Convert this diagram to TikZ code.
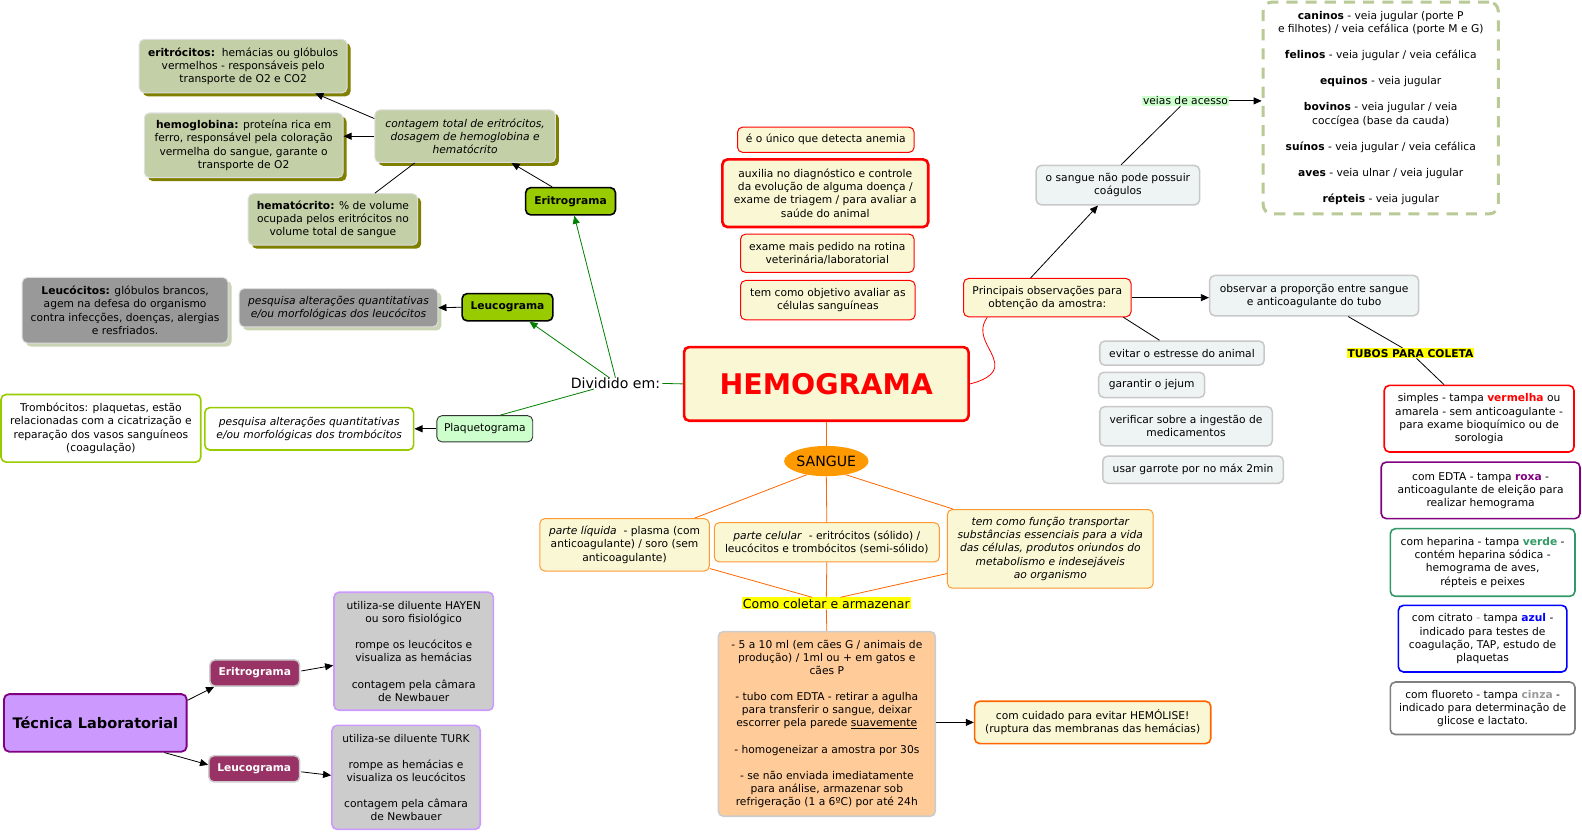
\documentclass[tikz,border=0pt]{standalone}
\usepackage{fontspec}
\setmainfont{DejaVu Sans}
\usetikzlibrary{arrows.meta,shapes.geometric,shadows,calc}
\definecolor{cream}{HTML}{FAF7D4}
\definecolor{olfill}{HTML}{C3CFA6}
\definecolor{olline}{HTML}{DEDEDE}
\definecolor{olshadow}{HTML}{808000}
\definecolor{lgshadow}{HTML}{C8D4B4}
\definecolor{gr99}{HTML}{999999}
\definecolor{ygreen}{HTML}{99CC00}
\definecolor{pgreen}{HTML}{CCFFCC}
\definecolor{dgreen}{HTML}{008000}
\definecolor{lorange}{HTML}{FF9933}
\definecolor{dorange}{HTML}{FF6600}
\definecolor{sorange}{HTML}{FF9900}
\definecolor{peach}{HTML}{FFCC99}
\definecolor{bluegray}{HTML}{EEF3F3}
\definecolor{bgline}{HTML}{C8C8C8}
\definecolor{maroon}{HTML}{993366}
\definecolor{lav}{HTML}{CC99FF}
\definecolor{purp}{HTML}{800080}
\definecolor{lgray}{HTML}{CCCCCC}
\definecolor{dashg}{HTML}{B9CA97}
\definecolor{tgreen}{HTML}{339966}
\definecolor{tgray}{HTML}{808080}
\definecolor{hlyellow}{HTML}{FFFF00}
\newcommand\mfs{\fontsize{10.6}{13}\selectfont}
\begin{document}
\begin{tikzpicture}[x=1pt,y=-1pt,
  every node/.style={font=\mfs, align=center, inner sep=1pt},
  bx/.style={rounded corners=5pt, line width=1pt},
  olv/.style={bx, fill=olfill, draw=olline, drop shadow={shadow xshift=3.5pt, shadow yshift=-3.5pt, fill=olshadow, opacity=1}},
  gry/.style={bx, fill=gr99, draw=olline, drop shadow={shadow xshift=3.5pt, shadow yshift=-3.5pt, fill=lgshadow, opacity=1}},
  grn/.style={bx, fill=ygreen, draw=black, line width=1.6pt, font=\mfs\bfseries},
  wgr/.style={bx, fill=white, draw=ygreen, line width=1.6pt},
  plq/.style={bx, fill=pgreen, draw=black!80, line width=0.9pt},
  yr/.style={bx, fill=cream, draw=red, line width=1pt},
  so/.style={bx, fill=cream, draw=lorange, line width=1pt},
  bg/.style={bx, fill=bluegray, draw=bgline, line width=1.5pt},
  tb/.style={bx, fill=white, line width=1.6pt},
  mr/.style={bx, fill=maroon, draw=lgray, line width=1.5pt, text=white, font=\mfs\bfseries},
  lv/.style={bx, fill=lgray, draw=lav, line width=1.6pt},
  arr/.style={-{Triangle[length=8pt,width=7pt]}, line width=0.8pt, black},
  garr/.style={-{Triangle[length=8pt,width=7pt]}, line width=0.8pt, dgreen},
  gln/.style={line width=0.8pt, dgreen},
  oln/.style={line width=0.8pt, dorange},
  bln/.style={line width=0.8pt, black}]
\useasboundingbox (0,0) rectangle (1568,825);

% ---------- left top cluster ----------
\node[olv, minimum width=206, minimum height=53] (eri) at (241,65.5)
  {\textbf{eritrócitos:}\ \ hemácias ou glóbulos\\vermelhos - responsáveis pelo\\transporte de O2 e CO2};
\node[olv, minimum width=197, minimum height=64] (hgb) at (241.5,144)
  {\textbf{hemoglobina:} proteína rica em\\ferro, responsável pela coloração\\vermelha do sangue, garante o\\transporte de O2};
\node[olv, minimum width=179, minimum height=52, font=\mfs\itshape] (cont) at (461,135)
  {contagem total de eritrócitos,\\dosagem de hemoglobina e\\hematócrito};
\node[olv, minimum width=168, minimum height=51] (hct) at (330,217.5)
  {\textbf{hematócrito:} \% de volume\\ocupada pelos eritrócitos no\\volume total de sangue};
\node[grn, minimum width=89, minimum height=27] (erg) at (565.5,199.5) {Eritrograma};

\node[gry, minimum width=204, minimum height=65] (leuc) at (124,307.5)
  {\textbf{Leucócitos:} glóbulos brancos,\\agem na defesa do organismo\\contra infecções, doenças, alergias\\e resfriados.};
\node[gry, minimum width=197, minimum height=38, font=\mfs\itshape] (pql) at (335.5,305)
  {pesquisa alterações quantitativas\\e/ou morfológicas dos leucócitos};
\node[grn, minimum width=90, minimum height=27] (leug) at (503,304.5) {Leucograma};

\node[wgr, minimum width=198, minimum height=67] (trom) at (100,424.5)
  {Trombócitos: plaquetas, estão\\relacionadas com a cicatrização e\\reparação dos vasos sanguíneos\\(coagulação)};
\node[wgr, minimum width=207, minimum height=42, font=\mfs\itshape] (pqt) at (306.5,425)
  {pesquisa alterações quantitativas\\e/ou morfológicas dos trombócitos};
\node[plq, minimum width=95, minimum height=26] (plaq) at (480.5,425) {Plaquetograma};

\node[font=\fontsize{14}{16}\selectfont, inner sep=2pt] (div) at (610,380) {Dividido em:};

% ---------- center ----------
\node[bx, fill=cream, draw=red, line width=2.6pt, minimum width=282, minimum height=73,
  text=red, font=\fontsize{28.2}{32}\selectfont\bfseries] (hemo) at (819,380.5) {HEMOGRAMA};

\node[yr, minimum width=175, minimum height=25] (anem) at (818.5,138.5) {é o único que detecta anemia};
\node[yr, line width=2.6pt, minimum width=204, minimum height=67] (aux) at (818,191.5)
  {auxilia no diagnóstico e controle\\da evolução de alguma doença /\\exame de triagem / para avaliar a\\saúde do animal};
\node[yr, minimum width=172, minimum height=38] (exam) at (820,251)
  {exame mais pedido na rotina\\veterinária/laboratorial};
\node[yr, minimum width=173, minimum height=39] (obj) at (820.5,297.5)
  {tem como objetivo avaliar as\\células sanguíneas};

\node[ellipse, fill=sorange, minimum width=70, minimum height=30, inner sep=0pt,
  font=\fontsize{14}{16}\selectfont] (sang) at (819,457) {SANGUE};

\node[so, minimum width=168, minimum height=52] (liq) at (619,540)
  {\textit{parte líquida}\ \ - plasma (com\\anticoagulante) / soro (sem\\anticoagulante)};
\node[so, minimum width=223, minimum height=39] (cel) at (819.5,537.5)
  {\textit{parte celular}\ \ - eritrócitos (sólido) /\\leucócitos e trombócitos (semi-sólido)};
\node[so, minimum width=204, minimum height=78, font=\mfs\itshape] (func) at (1041,544)
  {tem como função transportar\\substâncias essenciais para a vida\\das células, produtos oriundos do\\metabolismo e indesejáveis\\ao organismo};

\node[fill=hlyellow, inner sep=1pt, font=\fontsize{12.4}{14}\selectfont] (como) at (819,598) {Como coletar e armazenar};

\node[bx, fill=peach, draw=lgray, line width=1.6pt, minimum width=215, minimum height=183] (big) at (819.5,717.5)
  {- 5 a 10 ml (em cães G / animais de\\produção) / 1ml ou + em gatos e\\cães P\\[13pt]
   - tubo com EDTA - retirar a agulha\\para transferir o sangue, deixar\\escorrer pela parede \underline{suavemente}\\[13pt]
   - homogeneizar a amostra por 30s\\[13pt]
   - se não enviada imediatamente\\para análise, armazenar sob\\refrigeração (1 a 6ºC) por até 24h};

\node[bx, fill=cream, draw=dorange, line width=1.6pt, minimum width=234, minimum height=42] (cuid) at (1083,716)
  {com cuidado para evitar HEMÓLISE!\\(ruptura das membranas das hemácias)};

% ---------- right ----------
\node[yr, minimum width=166, minimum height=38] (prin) at (1038,295)
  {Principais observações para\\obtenção da amostra:};
\node[bg, minimum width=162, minimum height=39] (coag) at (1108,183.5)
  {o sangue não pode possuir\\coágulos};
\node[fill=pgreen, inner sep=1pt] (veias) at (1175,100) {veias de acesso};
\node[rounded corners=9pt, draw=dashg, line width=3pt, dash pattern=on 11pt off 8pt,
  minimum width=233, minimum height=210] (vbox) at (1368.5,107)
  {\textbf{caninos} - veia jugular (porte P\\e filhotes) / veia cefálica (porte M e G)\\[13pt]
   \textbf{felinos} - veia jugular / veia cefálica\\[13pt]
   \textbf{equinos} - veia jugular\\[13pt]
   \textbf{bovinos} - veia jugular / veia\\coccígea (base da cauda)\\[13pt]
   \textbf{suínos} - veia jugular / veia cefálica\\[13pt]
   \textbf{aves} - veia ulnar / veia jugular\\[13pt]
   \textbf{répteis} - veia jugular};

\node[bg, minimum width=207, minimum height=40] (obs) at (1302.5,293)
  {observar a proporção entre sangue\\e anticoagulante do tubo};
\node[bg, minimum width=163, minimum height=24] (evit) at (1171.5,350) {evitar o estresse do animal};
\node[bg, minimum width=105, minimum height=25] (jej) at (1141.5,381.5) {garantir o jejum};
\node[bg, minimum width=171, minimum height=39] (med) at (1175.5,422.5) {verificar sobre a ingestão de\\medicamentos};
\node[bg, minimum width=179, minimum height=27] (garr) at (1182.5,465.5) {usar garrote por no máx 2min};

\node[fill=hlyellow, inner sep=1pt, font=\mfs\bfseries] (tubos) at (1398,350) {TUBOS PARA COLETA};
\node[tb, draw=red, minimum width=188, minimum height=66] (simp) at (1466,415)
  {simples - tampa \textcolor{red}{\textbf{vermelha}} ou\\amarela - sem anticoagulante -\\para exame bioquímico ou de\\sorologia};
\node[tb, draw=purp, minimum width=197, minimum height=56] (edta) at (1467.5,486)
  {com EDTA - tampa \textcolor{purp}{\textbf{roxa}} -\\anticoagulante de eleição para\\realizar hemograma};
\node[tb, draw=tgreen, minimum width=183, minimum height=67] (hep) at (1469.5,557.5)
  {com heparina - tampa \textcolor{tgreen}{\textbf{verde}} -\\contém heparina sódica -\\hemograma de aves,\\répteis e peixes};
\node[tb, draw=blue, minimum width=167, minimum height=66] (citr) at (1469.5,633)
  {com citrato \textcolor{gr99}{-} tampa \textcolor{blue}{\textbf{azul}} -\\indicado para testes de\\coagulação, TAP, estudo de\\plaquetas};
\node[tb, draw=tgray, minimum width=183, minimum height=52] (fluo) at (1469.5,702)
  {com fluoreto - tampa \textcolor{gr99}{\textbf{cinza}} -\\indicado para determinação de\\glicose e lactato.};

% ---------- bottom left ----------
\node[bx, fill=lav, draw=purp, line width=1.8pt, minimum width=181, minimum height=57,
  font=\fontsize{14.4}{16}\selectfont\bfseries] (tec) at (94.5,716.5) {Técnica Laboratorial};
\node[mr, minimum width=89, minimum height=26] (meri) at (252.5,667) {Eritrograma};
\node[mr, minimum width=90, minimum height=26] (mleu) at (252,762) {Leucograma};
\node[lv, minimum width=158, minimum height=117] (hay) at (410,645.5)
  {utiliza-se diluente HAYEN\\ou soro fisiológico\\[13pt]rompe os leucócitos e\\visualiza as hemácias\\[13pt]contagem pela câmara\\de Newbauer};
\node[lv, minimum width=147, minimum height=103] (turk) at (402.5,770.5)
  {utiliza-se diluente TURK\\[13pt]rompe as hemácias e\\visualiza os leucócitos\\[13pt]contagem pela câmara\\de Newbauer};

% ---------- connectors ----------
\draw[arr] ($(cont.north west)+(0,9)$) -- ($(eri.south west)+(175,0)$);
\draw[arr] (cont.west) -- (cont.west -| hgb.east);
\draw[bln] ($(cont.south west)+(40,0)$) -- ($(hct.north west)+(126,0)$);
\draw[arr] ($(erg.north west)+(27,0)$) -- ($(cont.south east)+(-44,0)$);

\draw[garr] ($(div.north)+(0,2)$) -- ($(erg.south west)+(49,0)$);
\draw[garr] ($(div.north)+(-6,2)$) -- ($(leug.south east)+(-24,0)$);
\draw[gln] ($(div.south west)+(25,-2)$) -- ($(plaq.north east)+(-33,0)$);
\draw[gln] (div.east) -- (hemo.west);
\draw[arr] (leug.west) -- (pql.east);
\draw[arr] (plaq.west) -- (pqt.east);

\draw[oln] (hemo.south) -- (sang.north);
\draw[oln] (sang.215) -- ($(liq.north east)+(-15,0)$);
\draw[oln] (sang.south) -- (cel.north);
\draw[oln] (sang.325) -- ($(func.north west)+(6,0)$);
\draw[oln] ($(liq.south east)+(0,-3)$) -- ($(como.north)+(-14,0)$);
\draw[oln] (cel.south) -- (como.north);
\draw[oln] ($(func.south west)+(0,-15)$) -- ($(como.north)+(14,0)$);
\draw[oln] (como.south) -- (big.north);
\draw[arr] (big.east |- cuid.west) -- (cuid.west);

\draw[red, line width=0.8pt] (hemo.east) .. controls (972,378) and (988,372) .. (986,360)
  .. controls (984,346) and (966,332) .. ($(prin.south west)+(24,0)$);
\draw[arr] ($(prin.north west)+(67,0)$) -- ($(coag.south west)+(62,0)$);
\draw[bln] ($(coag.north west)+(85,0)$) -- ($(veias.south)+(-5,0)$);
\draw[arr] (veias.east) -- (veias.east -| vbox.west);
\draw[arr] (prin.east) -- (prin.east -| obs.west);
\draw[bln] ($(prin.south east)+(-8,0)$) -- ($(evit.north west)+(60,0)$);
\draw[bln] ($(obs.south west)+(138,0)$) -- ($(tubos.north)+(-8,0)$);
\draw[bln] ($(tubos.south)+(6,0)$) -- ($(simp.north west)+(60,0)$);

\draw[arr] ($(tec.north east)+(0,7)$) -- ($(meri.south west)+(5,0)$);
\draw[arr] ($(tec.south east)+(-23,0)$) -- ($(mleu.west)+(0,-4)$);
\draw[arr] ($(meri.east)+(1,-2)$) -- ($(hay.west)+(0,14)$);
\draw[arr] ($(mleu.east)+(1,3)$) -- ($(turk.west)+(0,-2)$);
\end{tikzpicture}
\end{document}
